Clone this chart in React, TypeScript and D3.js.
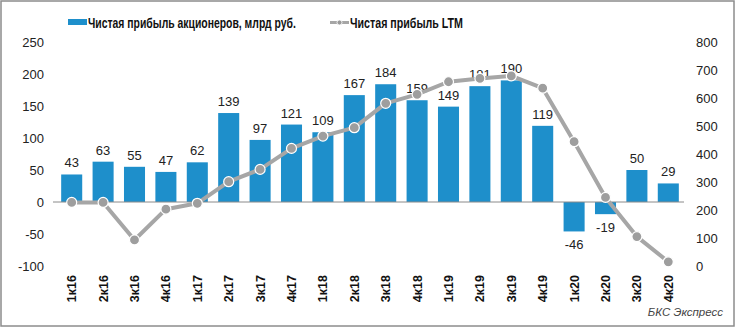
import React, { useLayoutEffect, useRef, useState } from "react";
import * as d3 from "d3";

const categories = ["1к16","2к16","3к16","4к16","1к17","2к17","3к17","4к17","1к18","2к18","3к18","4к18","1к19","2к19","3к19","4к19","1к20","2к20","3к20","4к20"];
const profit = [43,63,55,47,62,139,97,121,109,167,184,159,149,181,190,119,-46,-19,50,29];
const ltm = [227,227,93,203,224,301,345,420,464,494,581,613,658,670,679,635,444,245,105,15];
const leftTicks = [-100,-50,0,50,100,150,200,250];
const rightTicks = [0,100,200,300,400,500,600,700,800];
const barName = "Чистая прибыль акционеров, млрд руб.";
const lineName = "Чистая прибыль LTM";
const source = "БКС Экспресс";

const W = 735, H = 327;
const BLUE = "#1E8FCB";
const GRAY = "#A6A6A6";
const FONT = "'Liberation Sans', Arial, sans-serif";

function FitText({ x, y, width, children }: { x: number; y: number; width: number; children: string }) {
  const ref = useRef<SVGTextElement>(null);
  const [sx, setSx] = useState(0.72);
  useLayoutEffect(() => {
    if (ref.current) {
      const w = ref.current.getComputedTextLength();
      if (w > 0) setSx(width / w);
    }
  }, [width, children]);
  return (
    <text ref={ref} transform={`translate(${x},${y}) scale(${sx},1)`} fontSize={15.5} fontWeight="bold" fill="#111">{children}</text>
  );
}

export default function App() {
  const top = 42, bottom = 266;
  const x = d3.scaleBand<string>().domain(categories).range([56, 684]).paddingInner(0.33).paddingOuter(0.165);
  const yL = d3.scaleLinear().domain([-100, 250]).range([bottom, top]);
  const yR = d3.scaleLinear().domain([0, 800]).range([bottom, top]);
  const cx = (c: string) => (x(c) as number) + x.bandwidth() / 2;
  const line = d3.line<number>().x((_, i) => cx(categories[i])).y(d => yR(d));

  return (
    <>
      <style>{"body{margin:0}"}</style>
      <svg width={W} height={H} style={{ display: "block", fontFamily: FONT }}>
        <rect x={0} y={0} width={W} height={H} fill="#fff" />
        <rect x={1} y={1} width={W - 2} height={H - 2} fill="none" stroke="#8c8c8c" strokeWidth={1.5} />
        {/* legend */}
        <rect x={68} y={19} width={19} height={6} fill={BLUE} />
        <FitText x={88} y={28} width={208}>{barName}</FitText>
        <line x1={330} x2={349} y1={22.5} y2={22.5} stroke={GRAY} strokeWidth={3} />
        <circle cx={339.5} cy={22.5} r={2.5} fill="#999" stroke="#fff" strokeWidth={0.8} />
        <FitText x={350} y={28} width={113}>{lineName}</FitText>
        {/* axes labels */}
        {leftTicks.map(t => (
          <text key={"l" + t} x={44} y={yL(t)} dy="0.35em" textAnchor="end" fontSize={13} fill="#222">{t}</text>
        ))}
        {rightTicks.map(t => (
          <text key={"r" + t} x={696} y={yR(t)} dy="0.35em" textAnchor="start" fontSize={13} fill="#222">{t}</text>
        ))}
        {/* bars */}
        {profit.map((v, i) => (
          <rect key={"b" + i} x={x(categories[i])} width={x.bandwidth()} y={Math.min(yL(v), yL(0))} height={Math.abs(yL(v) - yL(0))} fill={BLUE} />
        ))}
        <line x1={53} x2={684} y1={yL(0)} y2={yL(0)} stroke="#8a8a8a" strokeWidth={1} />
        {/* bar labels */}
        {profit.map((v, i) => (
          <text key={"bl" + i} x={cx(categories[i])} y={v >= 0 ? yL(v) - 7 : yL(v) + 18} textAnchor="middle" fontSize={13} fill="#222">{v}</text>
        ))}
        {/* line */}
        <path d={line(ltm) as string} fill="none" stroke={GRAY} strokeWidth={4} strokeLinejoin="round" />
        {ltm.map((v, i) => (
          <circle key={"p" + i} cx={cx(categories[i])} cy={yR(v)} r={5} fill="#9e9e9e" stroke="#fff" strokeWidth={1.2} />
        ))}
        {/* x labels */}
        {categories.map(c => (
          <text key={"x" + c} transform={`translate(${cx(c) + 4.5},275) rotate(-90)`} textAnchor="end" fontSize={12.5} fontWeight="bold" fill="#111">{c}</text>
        ))}
        <text x={723} y={316} textAnchor="end" fontSize={11.5} fontStyle="italic" fill="#444">{source}</text>
      </svg>
    </>
  );
}
